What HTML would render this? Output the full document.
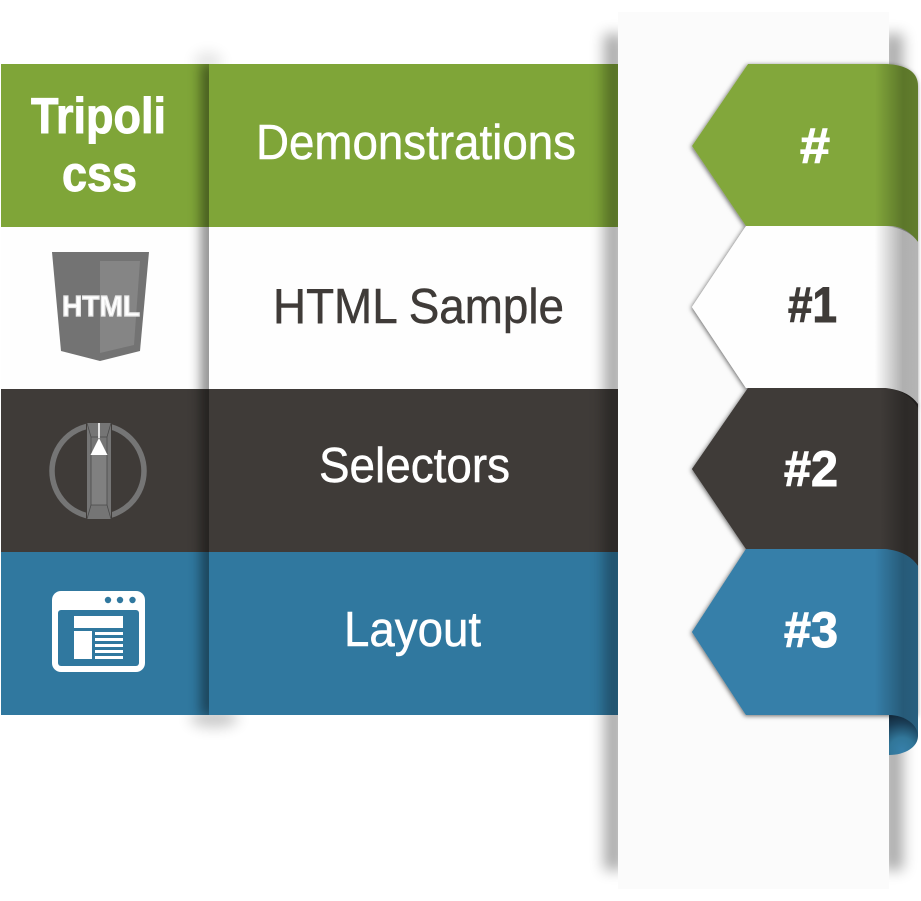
<!DOCTYPE html>
<html><head><meta charset="utf-8"><style>
html,body{margin:0;padding:0;background:#fff;width:921px;height:901px;overflow:hidden}
svg{display:block}
text{font-family:"Liberation Sans",sans-serif;font-size:49px}
.r{stroke-width:.5px}
.b{font-weight:bold;font-size:50px;stroke-width:1px}
</style></head><body>
<svg width="921" height="901" viewBox="0 0 921 901" xmlns="http://www.w3.org/2000/svg">
<defs>
<filter id="b8" filterUnits="userSpaceOnUse" x="0" y="0" width="921" height="901"><feGaussianBlur stdDeviation="7"/></filter>
<filter id="b5" filterUnits="userSpaceOnUse" x="0" y="0" width="921" height="901"><feGaussianBlur stdDeviation="7"/></filter>
<filter id="ts" filterUnits="userSpaceOnUse" x="600" y="0" width="321" height="901"><feDropShadow dx="-1" dy="1" stdDeviation="2.4" flood-color="#000" flood-opacity=".58"/></filter>
<linearGradient id="fold" x1="0" x2="1" y1="0" y2="0">
<stop offset="0" stop-color="#000" stop-opacity="0"/><stop offset=".65" stop-color="#000" stop-opacity=".29"/><stop offset="1" stop-color="#000" stop-opacity=".25"/></linearGradient>
<linearGradient id="foldw" x1="0" x2="1" y1="0" y2="0">
<stop offset="0" stop-color="#000" stop-opacity="0"/><stop offset=".65" stop-color="#000" stop-opacity=".31"/><stop offset="1" stop-color="#000" stop-opacity=".29"/></linearGradient>
<radialGradient id="curl" gradientUnits="userSpaceOnUse" cx="902" cy="750" r="36">
<stop offset="0" stop-color="#367fa9"/><stop offset=".35" stop-color="#317699"/><stop offset=".75" stop-color="#1a3f58"/><stop offset="1" stop-color="#12283a"/></radialGradient>
<clipPath id="c1"><rect x="0" y="64" width="209" height="651"/></clipPath>
<clipPath id="cg"><path d="M748 64H887Q918 66 918 86V242Q908 228 885 226H746L692 146Z"/></clipPath>
<clipPath id="cw"><path d="M746 226H892Q908 228 918 242V408Q908 390 885 388H746L692 307Z"/></clipPath>
<clipPath id="cd"><path d="M748 388H885Q908 390 918 404V566Q908 551 885 549H746L692 469Z"/></clipPath>
<clipPath id="cb"><path d="M746 549H885Q908 551 918 566V736H889V715H746L692 632Z"/></clipPath>
</defs>
<!-- spill shadows beneath rows -->
<ellipse cx="208" cy="62" rx="14" ry="10" fill="#000" opacity=".1" filter="url(#b5)"/>
<ellipse cx="214" cy="718" rx="24" ry="9" fill="#000" opacity=".22" filter="url(#b5)"/>
<!-- rows -->
<rect x="1" y="64" width="617" height="163" fill="#7fa538"/>
<rect x="1" y="227" width="617" height="162" fill="#fefefe"/>
<rect x="1" y="389" width="617" height="163" fill="#3f3b38"/>
<rect x="1" y="552" width="617" height="163" fill="#30789f"/>
<!-- divider shadow -->
<g clip-path="url(#c1)">
<rect x="203" y="62" width="12" height="655" fill="#000" opacity=".62" filter="url(#b8)"/>
</g>
<!-- row labels -->
<text class="b" x="31" y="133" fill="#fff" stroke="#fff" textLength="135" lengthAdjust="spacingAndGlyphs">Tripoli</text>
<text class="b" x="62" y="191" fill="#fff" stroke="#fff" textLength="75" lengthAdjust="spacingAndGlyphs">css</text>
<text class="r" x="256" y="159" fill="#fff" stroke="#fff" textLength="320" lengthAdjust="spacingAndGlyphs">Demonstrations</text>
<text class="r" x="273" y="323" fill="#3f3b38" stroke="#3f3b38" textLength="291" lengthAdjust="spacingAndGlyphs">HTML Sample</text>
<text class="r" x="319" y="482" fill="#fff" stroke="#fff" textLength="191" lengthAdjust="spacingAndGlyphs">Selectors</text>
<text class="r" x="344" y="646" fill="#fff" stroke="#fff" textLength="137" lengthAdjust="spacingAndGlyphs">Layout</text>
<!-- html icon -->
<path d="M52 252H149L140 351L100 361L61 351Z" fill="#737373"/>
<path d="M100 261H140L134 345L100 353Z" fill="#858585"/>
<text class="b" x="62" y="316" fill="#fff" stroke="#e8e8e8" style="font-size:29px;stroke-width:1.2px" textLength="78" lengthAdjust="spacingAndGlyphs">HTML</text>
<!-- selector icon -->
<circle cx="98" cy="471" r="46" fill="none" stroke="#757575" stroke-width="5.5"/>
<rect x="86" y="421" width="26" height="100" fill="#3f3b38"/>
<rect x="87" y="423" width="24" height="96" fill="#757575"/>
<rect x="91" y="455" width="16" height="50" fill="#808080"/>
<path d="M87 423L91 437H107L111 423M91 437V505M107 437V505M91 505L87 519M107 505L111 519M91 505H107" stroke="#4a4a4a" stroke-width=".8" fill="none"/>
<path d="M99 423V438" stroke="#fff" stroke-width="1.6"/>
<path d="M99 438L107.500 455H90.500Z" fill="#fff"/>
<!-- layout icon -->
<rect x="52" y="591" width="93" height="81" rx="9" fill="#fff"/>
<rect x="58" y="610" width="81" height="56" rx="3" fill="#30789f"/>
<circle cx="108" cy="600" r="3.200" fill="#30789f"/><circle cx="120" cy="600" r="3.200" fill="#30789f"/><circle cx="132.500" cy="600" r="3.200" fill="#30789f"/>
<rect x="74" y="616" width="49" height="12" fill="#fff"/>
<rect x="74" y="631" width="18" height="28" fill="#fff"/>
<rect x="95" y="632" width="28" height="3" fill="#fff"/><rect x="95" y="638" width="28" height="3" fill="#fff"/><rect x="95" y="644" width="28" height="3" fill="#fff"/><rect x="95" y="650" width="28" height="3" fill="#fff"/><rect x="95" y="656" width="28" height="3" fill="#fff"/>
<!-- panel shadows -->
<rect x="604" y="34" width="20" height="836" fill="#000" opacity=".33" filter="url(#b8)"/>
<rect x="883" y="34" width="20" height="836" fill="#000" opacity=".33" filter="url(#b8)"/>
<rect x="618" y="12" width="271" height="877" fill="#fbfbfb"/>
<!-- tabs -->
<g filter="url(#ts)">
<path d="M746 549H885Q908 551 918 566V715H746L692 632Z" fill="#367fa9"/>
</g>
<g filter="url(#ts)">
<path d="M748 388H885Q908 390 918 404V566Q908 551 885 549H746L692 469Z" fill="#3f3b38"/>
</g>
<g filter="url(#ts)">
<path d="M746 226H892Q908 228 918 242V408Q908 390 885 388H746L692 307Z" fill="#fefefe"/>
</g>
<g filter="url(#ts)">
<path d="M748 64H887Q918 66 918 86V242Q908 228 885 226H746L692 146Z" fill="#82a73a"/>
</g>
<!-- redraw in correct z-order -->
<path d="M746 226H892Q908 228 918 242V408Q908 390 885 388H746L692 307Z" fill="#fefefe"/>
<path d="M748 388H885Q908 390 918 404V566Q908 551 885 549H746L692 469Z" fill="#3f3b38"/>
<path d="M746 549H885Q908 551 918 566V736H889V715H746L692 632Z" fill="#367fa9"/>
<!-- fold shading -->
<rect x="875" y="64" width="43" height="180" fill="url(#fold)" clip-path="url(#cg)"/>
<rect x="875" y="226" width="43" height="184" fill="url(#foldw)" clip-path="url(#cw)"/>
<rect x="880" y="388" width="38" height="180" fill="url(#fold)" clip-path="url(#cd)"/>
<rect x="875" y="549" width="43" height="190" fill="url(#fold)" clip-path="url(#cb)"/>
<!-- curl -->
<path d="M889 715C905 715 918 725 918 736C918 747 905 755 889 755Z" fill="url(#curl)"/>
<!-- tab labels -->
<text class="b" x="800" y="163" fill="#fff" stroke="#fff" textLength="30" lengthAdjust="spacingAndGlyphs">#</text>
<text class="b" x="788" y="322" fill="#3f3b38" stroke="#3f3b38" textLength="49" lengthAdjust="spacingAndGlyphs">#1</text>
<text class="b" x="784" y="486" fill="#fff" stroke="#fff" textLength="54" lengthAdjust="spacingAndGlyphs">#2</text>
<text class="b" x="784" y="647" fill="#fff" stroke="#fff" textLength="54" lengthAdjust="spacingAndGlyphs">#3</text>
</svg>
</body></html>
